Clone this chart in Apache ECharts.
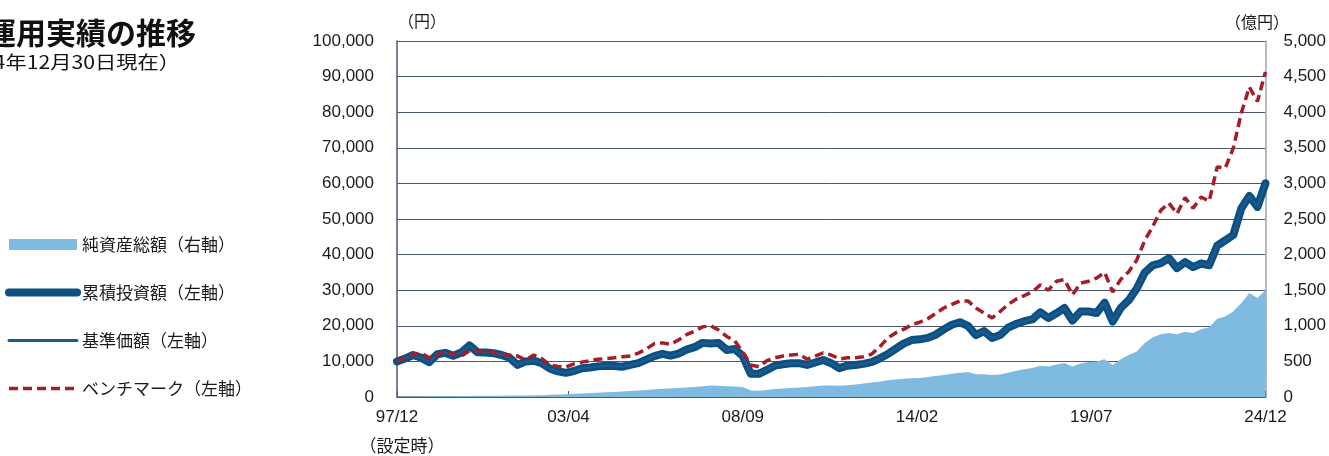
<!DOCTYPE html>
<html><head><meta charset="utf-8">
<script src="https://cdn.jsdelivr.net/npm/echarts@6/dist/echarts.min.js"></script>
<style>html,body{margin:0;padding:0;background:#fff}#c{width:1329px;height:456px}</style>
</head><body><div id="c"></div>
<script>
// Month offsets from 1997/12, sampled quarterly (categories of the x axis)
const monthIdx = [];
for (let m = 0; m <= 324; m += 3) monthIdx.push(m);
const tickMonths = [0, 64, 129, 194, 259, 324];

// 累積投資額 (円)
const cumulative = [10000,10800,11800,11000,9800,12000,12400,11600,12500,14500,
12600,12500,12300,11800,11000,9000,10000,10200,9500,8000,
7200,6800,7300,8100,8300,8600,8800,8700,8500,9000,
9500,10500,11500,12100,11600,12200,13300,14000,15200,15000,
15200,13200,13500,11500,6500,6500,7600,8800,9200,9500,
9500,9000,9700,10400,9500,8100,8800,9000,9300,9800,
10800,12000,13500,15000,16000,16200,16600,17500,19000,20300,
21000,20000,17400,18500,16600,17400,19500,20500,21300,21800,
23800,22200,23500,25000,21500,24000,24000,23600,26500,21200,
25000,27200,30500,35000,37000,37600,39000,36200,37900,36500,
37500,37000,42500,44000,45500,53000,56500,53400,60000];
// 基準価額 (円)
const basePrice = [10000,10800,11800,11000,9800,12000,12400,11600,12500,14500,
12600,12500,12300,11800,11000,9000,10000,10200,9500,8000,
7200,6800,7300,8100,8300,8600,8800,8700,8500,9000,
9500,10500,11500,12100,11600,12200,13300,14000,15200,15000,
15200,13200,13500,11500,6500,6500,7600,8800,9200,9500,
9500,9000,9700,10400,9500,8100,8800,9000,9300,9800,
10800,12000,13500,15000,16000,16200,16600,17500,19000,20300,
21000,20000,17400,18500,16600,17400,19500,20500,21300,21800,
23800,22200,23500,25000,21500,24000,24000,23600,26500,21200,
25000,27200,30500,35000,37000,37600,39000,36200,37900,36500,
37500,37000,42500,44000,45500,53000,56500,53400,60000];
// ベンチマーク (円)
const benchmark = [10000,11000,12000,12300,11000,11800,12900,12000,11500,13000,
13000,12800,12600,12000,11800,11500,10400,11800,10800,9000,
8600,8400,9300,9800,10200,10600,10800,11000,11300,11500,
12300,13500,15000,15200,14800,16000,17500,18500,19700,20000,
18800,17000,15800,12600,9000,8500,10200,11000,11500,11800,
12000,10600,11500,12400,11800,10700,11000,11000,11300,12000,
14000,16500,18000,19000,20300,21000,22000,23500,25000,26000,
27000,27000,25000,23600,22200,24000,26000,27500,28500,29500,
31500,30000,32500,33000,28700,32000,32500,33400,35000,29500,
33000,35200,38500,44000,48000,52500,54500,51500,56000,53000,
56200,55000,64600,64300,69900,79800,87100,83000,91300];
// 純資産総額 (億円)
const netAssets = [5,6,7,8,9,10,11,12,13,15,
16,17,18,19,20,20,22,24,26,30,
34,38,44,50,55,60,65,70,76,84,
92,100,108,115,120,125,135,142,150,160,
158,150,148,140,90,88,100,112,120,128,
135,140,150,162,160,158,165,175,190,205,
215,235,245,255,262,267,280,295,310,325,
340,350,320,318,310,315,340,370,390,407,
440,430,455,478,430,470,490,500,530,450,
530,590,640,760,840,880,900,880,917,900,
950,980,1100,1130,1200,1320,1460,1390,1500];

const pair = arr => monthIdx.map((m, i) => [m, arr[i]]);
const fmtMonth = m => {
  const t = 11 + Math.round(m);
  const y = (1997 + Math.floor(t / 12)) % 100;
  const mo = (t % 12) + 1;
  return String(y).padStart(2, '0') + '/' + String(mo).padStart(2, '0');
};
const comma = v => String(v).replace(/\B(?=(\d{3})+(?!\d))/g, ',');

const FONT = "'Liberation Sans', 'Noto Sans CJK JP', sans-serif";
const JFONT = "'Noto Sans CJK JP', sans-serif";
const GRID = '#4b5a6a';
const AREA = '#7fbbe0', FUND = '#0c4f82', BASE = '#1a5a8c', BENCH = '#a51d26';
const hideSym = {opacity: 0, color: 'rgba(0,0,0,0)', borderWidth: 0};
const chart = echarts.init(document.getElementById('c'), null, {renderer: 'canvas'});
chart.setOption({
  animation: false,
  backgroundColor: '#fff',
  grid: {left: 397, right: 63, top: 41, bottom: 59},
  legend: {
    orient: 'vertical', left: 0, top: 231, itemWidth: 68, itemHeight: 11, itemGap: 31,
    textStyle: {fontFamily: JFONT, fontSize: 17, color: '#1a1a1a'},
    data: [
      {name: '純資産総額（右軸）', icon: 'rect', itemStyle: {color: AREA}},
      {name: '累積投資額（左軸）', itemStyle: hideSym, lineStyle: {width: 8, color: FUND, cap: 'round'}},
      {name: '基準価額（左軸）', itemStyle: hideSym, lineStyle: {width: 3, color: BASE, cap: 'round'}},
      {name: 'ベンチマーク（左軸）', itemStyle: hideSym, lineStyle: {width: 3.5, color: BENCH, type: [9, 5]}}
    ]
  },
  xAxis: {
    type: 'value', min: 0, max: 324,
    axisLine: {lineStyle: {color: GRID, width: 1.5}},
    axisTick: {show: true, inside: true, length: 6, customValues: tickMonths, lineStyle: {color: GRID}},
    axisLabel: {customValues: tickMonths, formatter: fmtMonth, margin: 12,
      fontFamily: FONT, fontSize: 17, color: '#1a1a1a'},
    splitLine: {show: false}
  },
  yAxis: [
    {type: 'value', min: 0, max: 100000, interval: 10000,
     axisLine: {show: true, lineStyle: {color: GRID, width: 1.5}},
     axisTick: {show: false},
     axisLabel: {formatter: comma, margin: 23, fontFamily: FONT, fontSize: 17, color: '#1a1a1a'},
     splitLine: {show: true, lineStyle: {color: GRID, width: 1}}},
    {type: 'value', min: 0, max: 5000, interval: 500, position: 'right',
     axisLine: {show: true, lineStyle: {color: '#9aa3ad', width: 1.5}},
     axisTick: {show: false},
     axisLabel: {formatter: comma, margin: 18, fontFamily: FONT, fontSize: 17, color: '#1a1a1a'},
     splitLine: {show: false}}
  ],
  series: [
    {name: '純資産総額（右軸）', type: 'line', yAxisIndex: 1, data: pair(netAssets),
     symbol: 'none', lineStyle: {width: 0, color: AREA}, itemStyle: {color: AREA},
     areaStyle: {color: AREA, opacity: 1}, z: 1},
    {name: '累積投資額（左軸）', type: 'line', data: pair(cumulative), symbol: 'none',
     itemStyle: {color: FUND},
     lineStyle: {width: 8, color: FUND, cap: 'round', join: 'round'}, z: 2},
    {name: '基準価額（左軸）', type: 'line', data: pair(basePrice), symbol: 'none',
     itemStyle: {color: BASE},
     lineStyle: {width: 2.5, color: BASE, cap: 'round'}, z: 3},
    {name: 'ベンチマーク（左軸）', type: 'line', data: pair(benchmark), symbol: 'none',
     itemStyle: {color: BENCH},
     lineStyle: {width: 3.5, color: BENCH, type: [9, 5]}, z: 4}
  ],
  graphic: [
    {type: 'text', x: 196, y: 33, style: {text: '運用実績の推移', fontFamily: JFONT, fontSize: 30, fontWeight: 'bold', fill: '#111', align: 'right', verticalAlign: 'middle'}},
    {type: 'text', x: 180, y: 62, scaleX: 1.18, style: {text: '（2024年12月30日現在）', fontFamily: JFONT, fontSize: 18, fill: '#111', align: 'right', verticalAlign: 'middle'}},
    {type: 'text', x: 422, y: 21, style: {text: '（円）', fontFamily: JFONT, fontSize: 16, fill: '#1a1a1a', align: 'center', verticalAlign: 'middle'}},
    {type: 'text', x: 1257, y: 22, style: {text: '（億円）', fontFamily: JFONT, fontSize: 16, fill: '#1a1a1a', align: 'center', verticalAlign: 'middle'}},
    {type: 'text', x: 402, y: 446, style: {text: '（設定時）', fontFamily: JFONT, fontSize: 17, fill: '#1a1a1a', align: 'center', verticalAlign: 'middle'}}
  ]
});
</script></body></html>
